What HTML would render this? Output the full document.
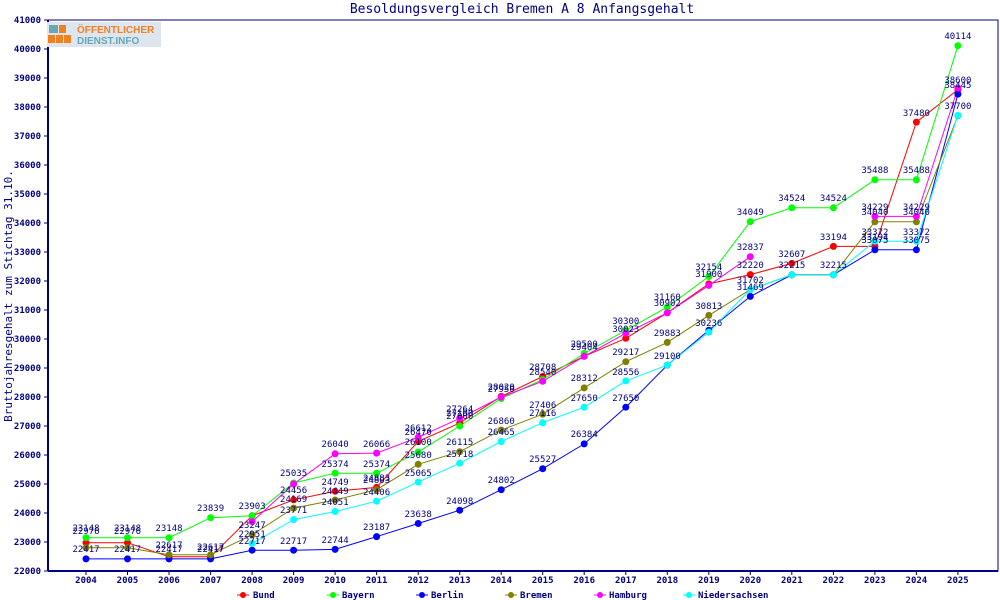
<!DOCTYPE html>
<html><head><meta charset="utf-8"><style>
body{margin:0;background:#fff}
svg{display:block}
text{font-family:"DejaVu Sans Mono","Liberation Mono",monospace;fill:#000080}
.l{font-size:9px;text-anchor:middle}
.ax{font-size:9px;font-weight:bold}
</style></head><body>
<svg width="1000" height="600" viewBox="0 0 1000 600">
<rect width="1000" height="600" fill="#fff"/>
<text x="522" y="13" font-size="13" text-anchor="middle">Besoldungsvergleich Bremen A 8 Anfangsgehalt</text>
<rect x="48" y="20" width="950" height="551" fill="none" stroke="#000080" stroke-width="1"/>
<line x1="48" y1="20" x2="48" y2="571" stroke="#000080" stroke-width="2"/>
<line x1="48" y1="571" x2="998" y2="571" stroke="#000080" stroke-width="2"/>
<g stroke="#000080">
<path d="M44 20h4M44 49h4M44 78h4M44 107h4M44 136h4M44 165h4M44 194h4M44 223h4M44 252h4M44 281h4M44 310h4M44 339h4M44 368h4M44 397h4M44 426h4M44 455h4M44 484h4M44 513h4M44 542h4M44 571h4"/>
<path d="M86 571v4M127.5 571v4M169 571v4M210.6 571v4M252.1 571v4M293.6 571v4M335.1 571v4M376.6 571v4M418.2 571v4M459.7 571v4M501.2 571v4M542.7 571v4M584.2 571v4M625.8 571v4M667.3 571v4M708.8 571v4M750.3 571v4M791.8 571v4M833.4 571v4M874.9 571v4M916.4 571v4M957.9 571v4"/>
</g>
<g class="ax" text-anchor="end">
<text x="41" y="23">41000</text><text x="41" y="52">40000</text><text x="41" y="81">39000</text><text x="41" y="110">38000</text><text x="41" y="139">37000</text><text x="41" y="168">36000</text><text x="41" y="197">35000</text><text x="41" y="226">34000</text><text x="41" y="255">33000</text><text x="41" y="284">32000</text><text x="41" y="313">31000</text><text x="41" y="342">30000</text><text x="41" y="371">29000</text><text x="41" y="400">28000</text><text x="41" y="429">27000</text><text x="41" y="458">26000</text><text x="41" y="487">25000</text><text x="41" y="516">24000</text><text x="41" y="545">23000</text><text x="41" y="574">22000</text>
</g>
<g class="ax" text-anchor="middle">
<text x="86" y="583">2004</text><text x="127.5" y="583">2005</text><text x="169" y="583">2006</text><text x="210.6" y="583">2007</text><text x="252.1" y="583">2008</text><text x="293.6" y="583">2009</text><text x="335.1" y="583">2010</text><text x="376.6" y="583">2011</text><text x="418.2" y="583">2012</text><text x="459.7" y="583">2013</text><text x="501.2" y="583">2014</text><text x="542.7" y="583">2015</text><text x="584.2" y="583">2016</text><text x="625.8" y="583">2017</text><text x="667.3" y="583">2018</text><text x="708.8" y="583">2019</text><text x="750.3" y="583">2020</text><text x="791.8" y="583">2021</text><text x="833.4" y="583">2022</text><text x="874.9" y="583">2023</text><text x="916.4" y="583">2024</text><text x="957.9" y="583">2025</text>
</g>
<text transform="translate(12 296) rotate(-90)" font-size="11" text-anchor="middle">Bruttojahresgehalt zum Stichtag 31.10.</text>
<!-- logo -->
<rect x="47" y="22" width="114" height="25" fill="#dde6ee"/>
<rect x="49" y="25" width="9" height="8" fill="#6aa6b8"/><rect x="59" y="25" width="7" height="8" fill="#f08020"/>
<rect x="48" y="35" width="7" height="8" fill="#f08020"/><rect x="56" y="35" width="7" height="8" fill="#f08020"/><rect x="64" y="35" width="7" height="8" fill="#f08020"/>
<text x="77" y="33" font-size="10" font-weight="bold" style="fill:#f08020;font-family:'Liberation Sans',sans-serif">ÖFFENTLICHER</text>
<text x="77" y="44" font-size="10" font-weight="bold" style="fill:#6aa6b8;font-family:'Liberation Sans',sans-serif">DIENST.INFO</text>
<g fill="none" stroke-width="1">
<polyline stroke="#ff0000" points="86,542.7 127.5,542.7 169,556.8 210.6,556.8 252.1,515.8 293.6,499.8 335.1,491.3 376.6,487.4 418.2,441.4 459.7,423.1 501.2,396.4 542.7,376.5 584.2,356.3 625.8,338.3 667.3,312.8 708.8,283.9 750.3,274.6 791.8,263.4 833.4,246.4 874.9,246.4 916.4,122.1 957.9,89.6"/>
<polyline stroke="#00ff00" points="86,537.7 127.5,537.7 169,537.7 210.6,517.7 252.1,515.8 293.6,483 335.1,473.2 376.6,473.2 418.2,452.1 459.7,426 501.2,398.5 542.7,379.6 584.2,353.5 625.8,330.3 667.3,307.1 708.8,276.5 750.3,221.6 791.8,207.8 833.4,207.8 874.9,179.8 916.4,179.8 957.9,45.7"/>
<polyline stroke="#0000ff" points="86,558.9 127.5,558.9 169,558.9 210.6,558.9 252.1,550.2 293.6,550.2 335.1,549.4 376.6,536.6 418.2,523.5 459.7,510.2 501.2,489.7 542.7,468.7 584.2,443.9 625.8,407.2 667.3,365.1 708.8,330.3 750.3,296.4 791.8,274.8 833.4,274.8 874.9,249.8 916.4,249.8 957.9,94.1"/>
<polyline stroke="#808000" points="86,547.8 127.5,547.8 169,554.8 210.6,554.8 252.1,534.8 293.6,508.1 335.1,500 376.6,489.7 418.2,464.3 459.7,451.7 501.2,430.1 542.7,414.2 584.2,387.9 625.8,361.7 667.3,342.4 708.8,315.4 750.3,289.6 791.8,274.8 833.4,274.8 874.9,221.8 916.4,221.8 957.9,115.7"/>
<polyline stroke="#ff00ff" points="252.1,521.7 293.6,484 335.1,453.8 376.6,453.1 418.2,437.3 459.7,418.3 501.2,397 542.7,381.3 584.2,356.3 625.8,333.2 667.3,312.8 708.8,285.4 750.3,256.7"/>
<polyline stroke="#ff00ff" points="874.9,216.4 916.4,216.4 957.9,88"/>
<polyline stroke="#00ffff" points="252.1,543.4 293.6,519.6 335.1,511.5 376.6,501.2 418.2,482.1 459.7,463.2 501.2,441.5 542.7,422.6 584.2,407.2 625.8,380.9 667.3,365.1 708.8,332.1 750.3,289.6 791.8,274.8 833.4,274.8 874.9,241.2 916.4,241.2 957.9,115.4"/>
</g>
<g fill="#ff0000"><circle cx="86" cy="542.7" r="3.5"/><circle cx="127.5" cy="542.7" r="3.5"/><circle cx="169" cy="556.8" r="3.5"/><circle cx="210.6" cy="556.8" r="3.5"/><circle cx="252.1" cy="515.8" r="3.5"/><circle cx="293.6" cy="499.8" r="3.5"/><circle cx="335.1" cy="491.3" r="3.5"/><circle cx="376.6" cy="487.4" r="3.5"/><circle cx="418.2" cy="441.4" r="3.5"/><circle cx="459.7" cy="423.1" r="3.5"/><circle cx="501.2" cy="396.4" r="3.5"/><circle cx="542.7" cy="376.5" r="3.5"/><circle cx="584.2" cy="356.3" r="3.5"/><circle cx="625.8" cy="338.3" r="3.5"/><circle cx="667.3" cy="312.8" r="3.5"/><circle cx="708.8" cy="283.9" r="3.5"/><circle cx="750.3" cy="274.6" r="3.5"/><circle cx="791.8" cy="263.4" r="3.5"/><circle cx="833.4" cy="246.4" r="3.5"/><circle cx="874.9" cy="246.4" r="3.5"/><circle cx="916.4" cy="122.1" r="3.5"/><circle cx="957.9" cy="89.6" r="3.5"/></g>
<g fill="#00ff00"><circle cx="86" cy="537.7" r="3.5"/><circle cx="127.5" cy="537.7" r="3.5"/><circle cx="169" cy="537.7" r="3.5"/><circle cx="210.6" cy="517.7" r="3.5"/><circle cx="252.1" cy="515.8" r="3.5"/><circle cx="293.6" cy="483" r="3.5"/><circle cx="335.1" cy="473.2" r="3.5"/><circle cx="376.6" cy="473.2" r="3.5"/><circle cx="418.2" cy="452.1" r="3.5"/><circle cx="459.7" cy="426" r="3.5"/><circle cx="501.2" cy="398.5" r="3.5"/><circle cx="542.7" cy="379.6" r="3.5"/><circle cx="584.2" cy="353.5" r="3.5"/><circle cx="625.8" cy="330.3" r="3.5"/><circle cx="667.3" cy="307.1" r="3.5"/><circle cx="708.8" cy="276.5" r="3.5"/><circle cx="750.3" cy="221.6" r="3.5"/><circle cx="791.8" cy="207.8" r="3.5"/><circle cx="833.4" cy="207.8" r="3.5"/><circle cx="874.9" cy="179.8" r="3.5"/><circle cx="916.4" cy="179.8" r="3.5"/><circle cx="957.9" cy="45.7" r="3.5"/></g>
<g fill="#0000ff"><circle cx="86" cy="558.9" r="3.5"/><circle cx="127.5" cy="558.9" r="3.5"/><circle cx="169" cy="558.9" r="3.5"/><circle cx="210.6" cy="558.9" r="3.5"/><circle cx="252.1" cy="550.2" r="3.5"/><circle cx="293.6" cy="550.2" r="3.5"/><circle cx="335.1" cy="549.4" r="3.5"/><circle cx="376.6" cy="536.6" r="3.5"/><circle cx="418.2" cy="523.5" r="3.5"/><circle cx="459.7" cy="510.2" r="3.5"/><circle cx="501.2" cy="489.7" r="3.5"/><circle cx="542.7" cy="468.7" r="3.5"/><circle cx="584.2" cy="443.9" r="3.5"/><circle cx="625.8" cy="407.2" r="3.5"/><circle cx="667.3" cy="365.1" r="3.5"/><circle cx="708.8" cy="330.3" r="3.5"/><circle cx="750.3" cy="296.4" r="3.5"/><circle cx="791.8" cy="274.8" r="3.5"/><circle cx="833.4" cy="274.8" r="3.5"/><circle cx="874.9" cy="249.8" r="3.5"/><circle cx="916.4" cy="249.8" r="3.5"/><circle cx="957.9" cy="94.1" r="3.5"/></g>
<g fill="#808000"><circle cx="86" cy="547.8" r="3.5"/><circle cx="127.5" cy="547.8" r="3.5"/><circle cx="169" cy="554.8" r="3.5"/><circle cx="210.6" cy="554.8" r="3.5"/><circle cx="252.1" cy="534.8" r="3.5"/><circle cx="293.6" cy="508.1" r="3.5"/><circle cx="335.1" cy="500" r="3.5"/><circle cx="376.6" cy="489.7" r="3.5"/><circle cx="418.2" cy="464.3" r="3.5"/><circle cx="459.7" cy="451.7" r="3.5"/><circle cx="501.2" cy="430.1" r="3.5"/><circle cx="542.7" cy="414.2" r="3.5"/><circle cx="584.2" cy="387.9" r="3.5"/><circle cx="625.8" cy="361.7" r="3.5"/><circle cx="667.3" cy="342.4" r="3.5"/><circle cx="708.8" cy="315.4" r="3.5"/><circle cx="750.3" cy="289.6" r="3.5"/><circle cx="791.8" cy="274.8" r="3.5"/><circle cx="833.4" cy="274.8" r="3.5"/><circle cx="874.9" cy="221.8" r="3.5"/><circle cx="916.4" cy="221.8" r="3.5"/><circle cx="957.9" cy="115.7" r="3.5"/></g>
<g fill="#ff00ff"><circle cx="252.1" cy="521.7" r="3.5"/><circle cx="293.6" cy="484" r="3.5"/><circle cx="335.1" cy="453.8" r="3.5"/><circle cx="376.6" cy="453.1" r="3.5"/><circle cx="418.2" cy="437.3" r="3.5"/><circle cx="459.7" cy="418.3" r="3.5"/><circle cx="501.2" cy="397" r="3.5"/><circle cx="542.7" cy="381.3" r="3.5"/><circle cx="584.2" cy="356.3" r="3.5"/><circle cx="625.8" cy="333.2" r="3.5"/><circle cx="667.3" cy="312.8" r="3.5"/><circle cx="708.8" cy="285.4" r="3.5"/><circle cx="750.3" cy="256.7" r="3.5"/><circle cx="874.9" cy="216.4" r="3.5"/><circle cx="916.4" cy="216.4" r="3.5"/><circle cx="957.9" cy="88" r="3.5"/></g>
<g fill="#00ffff"><circle cx="252.1" cy="543.4" r="3.5"/><circle cx="293.6" cy="519.6" r="3.5"/><circle cx="335.1" cy="511.5" r="3.5"/><circle cx="376.6" cy="501.2" r="3.5"/><circle cx="418.2" cy="482.1" r="3.5"/><circle cx="459.7" cy="463.2" r="3.5"/><circle cx="501.2" cy="441.5" r="3.5"/><circle cx="542.7" cy="422.6" r="3.5"/><circle cx="584.2" cy="407.2" r="3.5"/><circle cx="625.8" cy="380.9" r="3.5"/><circle cx="667.3" cy="365.1" r="3.5"/><circle cx="708.8" cy="332.1" r="3.5"/><circle cx="750.3" cy="289.6" r="3.5"/><circle cx="791.8" cy="274.8" r="3.5"/><circle cx="833.4" cy="274.8" r="3.5"/><circle cx="874.9" cy="241.2" r="3.5"/><circle cx="916.4" cy="241.2" r="3.5"/><circle cx="957.9" cy="115.4" r="3.5"/></g>
<g class="l">
<text x="86" y="534">22976</text><text x="127.5" y="534">22976</text><text x="210.6" y="550">22617</text><text x="252.1" y="509">23903</text><text x="293.6" y="493">24456</text><text x="335.1" y="485">24749</text><text x="376.6" y="481">24883</text><text x="418.2" y="435">26470</text><text x="459.7" y="416">27100</text><text x="501.2" y="390">28020</text><text x="542.7" y="370">28708</text><text x="584.2" y="350">29404</text><text x="625.8" y="332">30023</text><text x="667.3" y="306">30902</text><text x="708.8" y="277">31900</text><text x="750.3" y="268">32220</text><text x="791.8" y="257">32607</text><text x="833.4" y="240">33194</text><text x="874.9" y="240">33194</text><text x="916.4" y="116">37480</text><text x="957.9" y="83">38600</text>
<text x="86" y="531">23148</text><text x="127.5" y="531">23148</text><text x="169" y="531">23148</text><text x="210.6" y="511">23839</text><text x="293.6" y="476">25035</text><text x="335.1" y="467">25374</text><text x="376.6" y="467">25374</text><text x="418.2" y="445">26100</text><text x="459.7" y="419">27000</text><text x="501.2" y="392">27950</text><text x="584.2" y="347">29500</text><text x="625.8" y="324">30300</text><text x="667.3" y="300">31160</text><text x="708.8" y="270">32154</text><text x="750.3" y="215">34049</text><text x="791.8" y="201">34524</text><text x="833.4" y="201">34524</text><text x="874.9" y="173">35488</text><text x="916.4" y="173">35488</text><text x="957.9" y="39">40114</text>
<text x="86" y="552">22417</text><text x="127.5" y="552">22417</text><text x="169" y="552">22417</text><text x="210.6" y="552">22417</text><text x="252.1" y="544">22717</text><text x="293.6" y="544">22717</text><text x="335.1" y="543">22744</text><text x="376.6" y="530">23187</text><text x="418.2" y="517">23638</text><text x="459.7" y="504">24098</text><text x="501.2" y="483">24802</text><text x="542.7" y="462">25527</text><text x="584.2" y="437">26384</text><text x="625.8" y="401">27650</text><text x="667.3" y="359">29100</text><text x="750.3" y="290">31469</text><text x="874.9" y="243">33075</text><text x="916.4" y="243">33075</text><text x="957.9" y="88">38445</text>
<text x="169" y="548">22617</text><text x="252.1" y="528">23247</text><text x="293.6" y="502">24169</text><text x="335.1" y="494">24449</text><text x="376.6" y="483">24803</text><text x="418.2" y="458">25680</text><text x="459.7" y="445">26115</text><text x="501.2" y="424">26860</text><text x="542.7" y="408">27406</text><text x="584.2" y="381">28312</text><text x="625.8" y="355">29217</text><text x="667.3" y="336">29883</text><text x="708.8" y="309">30813</text><text x="750.3" y="283">31702</text><text x="874.9" y="215">34040</text><text x="916.4" y="215">34040</text><text x="957.9" y="109">37700</text>
<text x="335.1" y="447">26040</text><text x="376.6" y="447">26066</text><text x="418.2" y="431">26612</text><text x="459.7" y="412">27264</text><text x="542.7" y="375">28540</text><text x="750.3" y="250">32837</text><text x="874.9" y="210">34229</text><text x="916.4" y="210">34229</text>
<text x="252.1" y="537">22951</text><text x="293.6" y="513">23771</text><text x="335.1" y="505">24051</text><text x="376.6" y="495">24406</text><text x="418.2" y="476">25065</text><text x="459.7" y="457">25718</text><text x="501.2" y="435">26465</text><text x="542.7" y="416">27116</text><text x="584.2" y="401">27650</text><text x="625.8" y="375">28556</text><text x="708.8" y="326">30236</text><text x="791.8" y="268">32215</text><text x="833.4" y="268">32215</text><text x="874.9" y="235">33372</text><text x="916.4" y="235">33372</text>
</g>
<g font-size="9" class="ax">
<line x1="237" y1="595" x2="249" y2="595" stroke="#ff0000"/><circle cx="243" cy="595" r="3" fill="#ff0000"/><text x="253" y="598">Bund</text>
<line x1="327" y1="595" x2="339" y2="595" stroke="#00ff00"/><circle cx="333" cy="595" r="3" fill="#00ff00"/><text x="342" y="598">Bayern</text>
<line x1="416" y1="595" x2="428" y2="595" stroke="#0000ff"/><circle cx="422" cy="595" r="3" fill="#0000ff"/><text x="431" y="598">Berlin</text>
<line x1="505" y1="595" x2="517" y2="595" stroke="#808000"/><circle cx="511" cy="595" r="3" fill="#808000"/><text x="520" y="598">Bremen</text>
<line x1="594" y1="595" x2="606" y2="595" stroke="#ff00ff"/><circle cx="600" cy="595" r="3" fill="#ff00ff"/><text x="609" y="598">Hamburg</text>
<line x1="683" y1="595" x2="695" y2="595" stroke="#00ffff"/><circle cx="689" cy="595" r="3" fill="#00ffff"/><text x="698" y="598">Niedersachsen</text>
</g>
</svg>
</body></html>
